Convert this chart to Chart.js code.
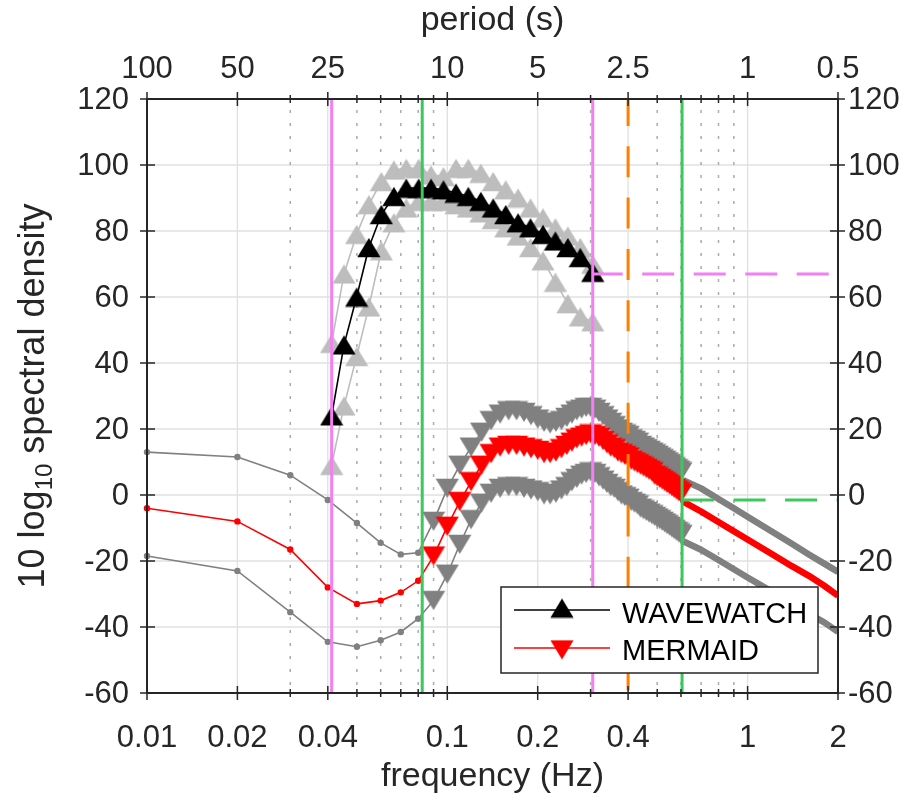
<!DOCTYPE html>
<html><head><meta charset="utf-8">
<script src="https://cdn.jsdelivr.net/npm/chart.js@4.4.1/dist/chart.umd.min.js"></script>
<style>html,body{margin:0;padding:0;background:#fff;}canvas{display:block;}</style>
</head><body>
<canvas id="c" width="906" height="800"></canvas>
<script>
// ---------------- data ----------------
const wwFreq  = [0.0412,0.0453,0.0499,0.0548,0.0603,0.0664,0.0730,0.0803,0.0883,0.0971,0.1069,0.1175,0.1293,0.1422,0.1565,0.1721,0.1893,0.2082,0.2291,0.2520,0.2772,0.3049];
const wwMean  = [24,45.5,60,75,85,90.5,93,93,93,92.5,91.5,90.5,89,87,85,82.5,81,79,77,75,72,67.5];
const wwUpper = [46,67,79,88,95,98.5,99,99,97,96.5,99,99,97.5,95,92.5,90,87,84,81,78.5,75,70];
const wwLower = [9,27,42,57,74,82.5,87,89,89,89,88,87,85.5,83.5,81,78.5,75,71,64.5,58,54,52.5];

const mmLoFreq  = [0.01,0.02,0.03,0.04,0.05,0.06,0.07,0.08];
const mmLoMean  = [-4,-8,-16.5,-28,-33,-32,-29.5,-26];
const mmLoUpper = [13,11.5,6,-1.5,-8.5,-14.5,-18,-17.5];
const mmLoLower = [-18.5,-23,-35.5,-44.5,-46,-44,-41.5,-37.5];

const mmMidFreq  = [0.09,0.10,0.11,0.12,0.13,0.14,0.15,0.16,0.17,0.18,0.19,0.20,0.21,0.22,0.23,0.24,0.25,0.26,0.27,0.28,0.29,0.30,0.31,0.32,0.33,0.34,0.35,0.36,0.37,0.38,0.39,0.40,0.41,0.42,0.43,0.44,0.45,0.46,0.47,0.48,0.49,0.50,0.51,0.52,0.53,0.54,0.55,0.56,0.57,0.58,0.59,0.60];
const mmMidMean  = [-18.5,-9.5,-2,4,9,12.5,14.5,15,15,14.5,14,13.5,12.5,12.5,13,14,15,16,17,17.5,18,18.5,18,17.5,16.5,15.5,14.5,14,13,12.5,12,11.5,10.5,10,9.5,9,8.5,8,7.5,7,6,5.5,5,4.5,4,3.5,3,2.5,2,1.5,1,0.5];
const mmMidUpper = [-8,2,9,14.5,19,22.5,24.5,25.5,25.5,25,24,23,22,21.5,22,22.5,23.5,24.5,25.5,26,26.5,26.5,26,25,24,23,22,21,20,19,18.5,18,17,16.5,16,15,14.5,14,13.5,13,12.5,12,11.5,11,10.5,10,9.5,9,8.5,8,7.5,7];
const mmMidLower = [-32,-24,-15,-7.5,-2.5,0.5,2,2.5,2.5,2,1.5,1,0,0,0.5,1.5,2.5,4,5,6,6.5,7,6.5,5.5,4.5,3.5,2.5,2,1,0,-0.5,-1,-2,-2.5,-3,-4,-4.5,-5,-5.5,-6,-6.5,-7,-7.5,-8,-8.5,-9,-9.5,-10,-10.5,-11,-11.5,-12];

const mmHiFreq  = [0.61,0.7,0.8,0.9,1.0,1.2,1.4,1.6,1.8,2.0];
const mmHiMean  = [-2,-5,-8.2,-11,-13.5,-17.8,-21.5,-24.5,-27.5,-30.5];
const mmHiUpper = [4.5,2,-1.2,-4,-6.6,-11,-14.7,-18,-20.8,-23.3];
const mmHiLower = [-14,-16.6,-19.7,-22.5,-25,-29.2,-32.8,-36,-38.6,-41.5];

const freqTicks      = [0.01,0.02,0.04,0.1,0.2,0.4,1,2];
const freqLabels     = ['0.01','0.02','0.04','0.1','0.2','0.4','1','2'];
const periodLabels   = ['100','50','25','10','5','2.5','1','0.5'];
const minorFreqTicks = [0.03,0.05,0.06,0.07,0.08,0.09,0.3,0.5,0.6,0.7,0.8,0.9];
const yTicks         = [-60,-40,-20,0,20,40,60,80,100,120];

const pinkFreqs   = [0.0412, 0.305];
const greenFreqs  = [0.0825, 0.605];
const orangeFreqs = [0.4];
const pinkLevel   = 67;
const greenLevel  = -1.5;

const X_MIN = 0.01, X_MAX = 2, Y_MIN = -60, Y_MAX = 120;

// ---------------- styles ----------------
const PINK = '#f47ef4', GREEN = '#3cc85c', ORANGE = '#ff8000';
const LGRAY = '#bdbdbd', DGRAY = '#808080', RED = '#ff0000', BLACK = '#000000';
const AXC = '#262626';
const FONT = '"Liberation Sans", Arial, sans-serif';

function tri(color, up) {
  const c = document.createElement('canvas'); c.width = 24; c.height = 21;
  const g = c.getContext('2d'); g.fillStyle = color; g.beginPath();
  if (up) { g.moveTo(12, 1); g.lineTo(23.6, 20.2); g.lineTo(0.4, 20.2); }
  else { g.moveTo(0.4, 0.8); g.lineTo(23.6, 0.8); g.lineTo(12, 20); }
  g.closePath(); g.fill(); return c;
}
const triBlack = tri(BLACK, true), triLGray = tri(LGRAY, true);
const triRed = tri(RED, false), triDGray = tri(DGRAY, false);

const pts = (xs, ys) => xs.map((f, i) => ({x: f, y: ys[i]}));

function wwSet(ys, color, img, order) {
  return {data: pts(wwFreq, ys), borderColor: color, backgroundColor: color, borderWidth: 1.6,
    pointStyle: img, pointRadius: 3, order};
}
function mmThin(lo, mid, color, img, order) {
  const n = mmLoFreq.length;
  return {data: pts(mmLoFreq.concat(mmMidFreq), lo.concat(mid)), borderColor: color, backgroundColor: color,
    borderWidth: 1.6, pointRadius: 3.2, pointBorderWidth: 0,
    pointStyle: c => c.dataIndex < n ? 'circle' : img, order, clip: 5};
}
function mmThick(hi, color, order) {
  return {data: pts(mmHiFreq, hi), borderColor: color, borderWidth: 6.5, pointRadius: 0,
    borderJoinStyle: 'round', borderCapStyle: 'butt', order};
}
function vline(f, color, w, dash, off, order) {
  return {data: [{x: f, y: Y_MAX}, {x: f, y: Y_MIN}], borderColor: color, borderWidth: w,
    borderDash: dash, borderDashOffset: off, pointRadius: 0, order};
}
function hline(f, level, color, w, dash, off, order) {
  return {data: [{x: f, y: level}, {x: X_MAX, y: level}], borderColor: color, borderWidth: w,
    borderDash: dash, borderDashOffset: off, pointRadius: 0, order};
}

const datasets = [
  vline(pinkFreqs[0], PINK, 3, [], 0, 1),
  vline(pinkFreqs[1], PINK, 3, [], 0, 1),
  vline(greenFreqs[0], GREEN, 3, [], 0, 1),
  vline(greenFreqs[1], GREEN, 3, [], 0, 1),
  vline(orangeFreqs[0], ORANGE, 3, [31, 20.3], 4, 1),
  hline(pinkFreqs[1], pinkLevel, PINK, 3, [32, 19.5], 2, 0),
  hline(greenFreqs[1], greenLevel, GREEN, 3, [32, 19.5], 0, 0),
  wwSet(wwMean, BLACK, triBlack, 10),
  mmThick(mmHiMean, RED, 11),
  mmThin(mmLoMean, mmMidMean, RED, triRed, 12),
  mmThick(mmHiUpper, DGRAY, 13),
  mmThick(mmHiLower, DGRAY, 13),
  mmThin(mmLoUpper, mmMidUpper, DGRAY, triDGray, 14),
  mmThin(mmLoLower, mmMidLower, DGRAY, triDGray, 15),
  wwSet(wwUpper, LGRAY, triLGray, 20),
  wwSet(wwLower, LGRAY, triLGray, 21)
];

function seg(ctx, x1, y1, x2, y2) { ctx.beginPath(); ctx.moveTo(x1, y1); ctx.lineTo(x2, y2); ctx.stroke(); }

const frame = {
  id: 'frame',
  beforeDatasetsDraw(chart) {
    const {ctx, chartArea: a} = chart; const xs = chart.scales.x, ys = chart.scales.y;
    ctx.save();
    ctx.strokeStyle = '#e0e0e0'; ctx.lineWidth = 1.3;
    yTicks.forEach(v => { const p = ys.getPixelForValue(v); seg(ctx, a.left, p, a.right, p); });
    freqTicks.forEach(f => { const p = xs.getPixelForValue(f); seg(ctx, p, a.top, p, a.bottom); });
    ctx.strokeStyle = '#ababab'; ctx.lineWidth = 1.5; ctx.setLineDash([3, 10]); ctx.lineDashOffset = 2;
    minorFreqTicks.forEach(f => { const p = xs.getPixelForValue(f); seg(ctx, p, a.top, p, a.bottom); });
    ctx.restore();
  },
  afterDraw(chart) {
    const {ctx, chartArea: a} = chart; const xs = chart.scales.x, ys = chart.scales.y;
    ctx.save();
    // axes box
    ctx.strokeStyle = AXC; ctx.lineWidth = 2;
    ctx.strokeRect(a.left, a.top, a.right - a.left, a.bottom - a.top);
    // ticks
    ctx.lineWidth = 1.5;
    freqTicks.forEach(f => { const p = xs.getPixelForValue(f);
      seg(ctx, p, a.top - 7, p, a.top + 7); seg(ctx, p, a.bottom - 7, p, a.bottom + 7); });
    minorFreqTicks.forEach(f => { const p = xs.getPixelForValue(f);
      seg(ctx, p, a.top - 4, p, a.top + 4); seg(ctx, p, a.bottom - 4, p, a.bottom + 4); });
    yTicks.forEach(v => { const p = ys.getPixelForValue(v);
      seg(ctx, a.left - 7, p, a.left + 8, p); seg(ctx, a.right - 8, p, a.right + 7, p); });
    // tick labels
    ctx.fillStyle = AXC; ctx.font = '31px ' + FONT;
    ctx.textAlign = 'center'; ctx.textBaseline = 'alphabetic';
    freqTicks.forEach((f, i) => { const p = xs.getPixelForValue(f);
      ctx.fillText(freqLabels[i], p, 747); ctx.fillText(periodLabels[i], p, 78); });
    ctx.textBaseline = 'middle';
    yTicks.forEach(v => { const p = ys.getPixelForValue(v);
      ctx.textAlign = 'right'; ctx.fillText(String(v), a.left - 18, p + 1);
      ctx.textAlign = 'left'; ctx.fillText(String(v), a.right + 10, p + 1); });
    // axis titles
    ctx.font = '34px ' + FONT; ctx.textAlign = 'center'; ctx.textBaseline = 'alphabetic';
    const cx = (a.left + a.right) / 2;
    ctx.fillText('frequency (Hz)', cx, 786);
    ctx.fillText('period (s)', cx, 30);
    // y title with subscript
    ctx.save();
    ctx.translate(44, (a.top + a.bottom) / 2); ctx.rotate(-Math.PI / 2);
    ctx.textAlign = 'left';
    const big = '36px ' + FONT, small = '24px ' + FONT;
    const p1 = '10 log', p2 = '10', p3 = ' spectral density';
    ctx.font = big; const w1 = ctx.measureText(p1).width, w3 = ctx.measureText(p3).width;
    ctx.font = small; const w2 = ctx.measureText(p2).width;
    let sx = -(w1 + w2 + w3) / 2;
    ctx.font = big; ctx.fillText(p1, sx, 0); sx += w1;
    ctx.font = small; ctx.fillText(p2, sx, 8); sx += w2;
    ctx.font = big; ctx.fillText(p3, sx, 0);
    ctx.restore();
    // legend
    ctx.fillStyle = '#ffffff'; ctx.fillRect(501, 587, 317, 86);
    ctx.strokeStyle = AXC; ctx.lineWidth = 1.5; ctx.strokeRect(501, 587, 317, 86);
    ctx.lineWidth = 1.5;
    ctx.strokeStyle = BLACK; seg(ctx, 514, 610, 610, 610);
    ctx.drawImage(triBlack, 562 - 12, 608 - 10.5);
    ctx.strokeStyle = RED; seg(ctx, 514, 648, 610, 648);
    ctx.drawImage(triRed, 562 - 12, 650 - 10.5);
    ctx.fillStyle = '#000'; ctx.font = '29px ' + FONT; ctx.textAlign = 'left';
    ctx.fillText('WAVEWATCH', 622, 623);
    ctx.fillText('MERMAID', 622, 660);
    ctx.restore();
  }
};

new Chart(document.getElementById('c'), {
  type: 'line',
  data: {datasets},
  options: {
    responsive: false, animation: false, devicePixelRatio: 1, events: [],
    layout: {padding: {left: 147, right: 68, top: 99, bottom: 107}},
    plugins: {legend: {display: false}, tooltip: {enabled: false}},
    elements: {line: {tension: 0}},
    scales: {
      x: {type: 'logarithmic', min: X_MIN, max: X_MAX, display: false},
      y: {type: 'linear', min: Y_MIN, max: Y_MAX, display: false}
    }
  },
  plugins: [frame]
});
</script></body></html>
